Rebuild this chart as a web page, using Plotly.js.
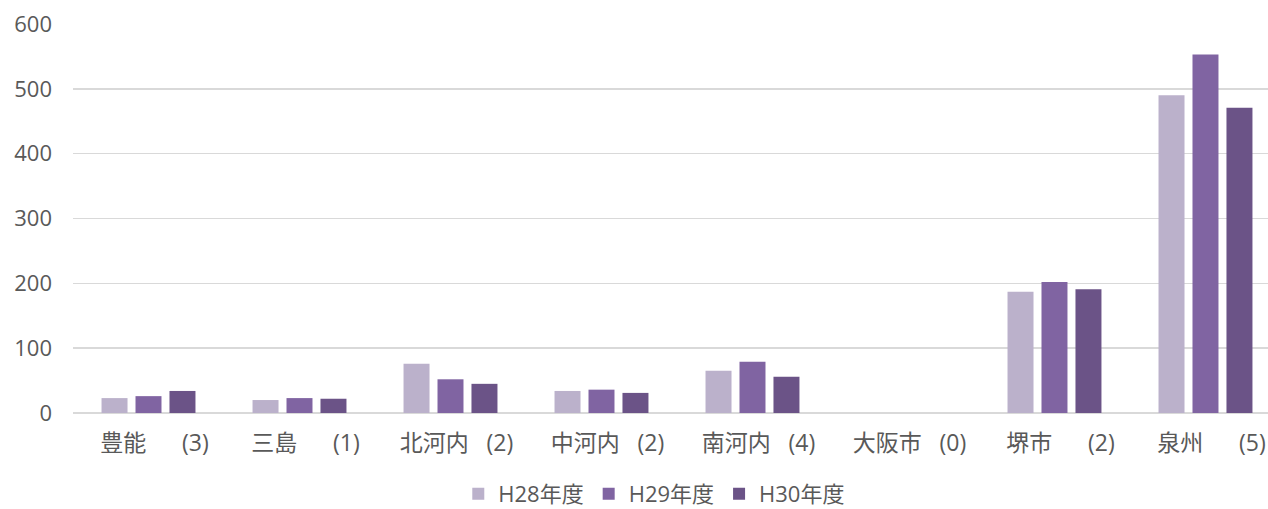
<!DOCTYPE html>
<html><head><meta charset="utf-8">
<script src="https://cdn.plot.ly/plotly-3.0.1.min.js"></script>
<style>html,body{margin:0;padding:0;background:#fff;}#chart{width:1268px;height:509px;}</style>
</head><body><div id="chart"></div>
<script>
const regions = ["豊能","三島","北河内","中河内","南河内","大阪市","堺市","泉州"];
const counts = ["(3)","(1)","(2)","(2)","(4)","(0)","(2)","(5)"];
const seriesNames = ["H28年度","H29年度","H30年度"];
const h28 = [23,20,76,34,65,0,187,490];
const h29 = [26,23,52,36,79,0,202,553];
const h30 = [34,22,45,31,56,0,191,471];
const colors = ["#BBB1CB","#8064A2","#6B5387"];
const yTicks = [0,100,200,300,400,500,600];

const NB = "\u00a0";
const tickText = regions.map((r,i)=> NB + NB + r + NB.repeat(r.length===2?6:3) + counts[i]);
const xs = regions.map((_,i)=>i);
const font = '"Open Sans","Noto Sans CJK JP",sans-serif';

const traces = [h28,h29,h30].map((v,k)=>({
  type:'bar', x: xs, y: v, name: seriesNames[k],
  marker:{color:colors[k], line:{width:0}},
  hoverinfo:'skip'
}));

const layout = {
  width:1268, height:509,
  margin:{l:73, r:0, t:24, b:96},
  paper_bgcolor:'#fff', plot_bgcolor:'#fff',
  font:{family:font, size:23, color:'#595959'},
  barmode:'group', bargap:0.325, bargroupgap:0.235,
  xaxis:{
    range:[-0.5, 7.414], tickmode:'array', tickvals:xs, ticktext:tickText,
    showgrid:false, zeroline:false, showline:false, ticks:'',
    ticklabelstandoff:14, tickfont:{size:23, color:'#595959'}, fixedrange:true
  },
  yaxis:{
    range:[0,600], tickmode:'array', tickvals:yTicks,
    showgrid:true, gridcolor:'#D9D9D9', gridwidth:1.5,
    zeroline:true, zerolinecolor:'#D9D9D9', zerolinewidth:2,
    showline:false, ticks:'', ticklabelstandoff:20,
    tickfont:{size:22, color:'#595959'}, fixedrange:true
  },
  showlegend:true,
  legend:{orientation:'h', x:0.516, xanchor:'center', xref:'container',
    y:0.0295, yanchor:'middle', yref:'container',
    font:{size:22, color:'#595959'}, itemwidth:30, traceorder:'normal'}
};
Plotly.newPlot('chart', traces, layout, {displayModeBar:false, staticPlot:true});
</script></body></html>
